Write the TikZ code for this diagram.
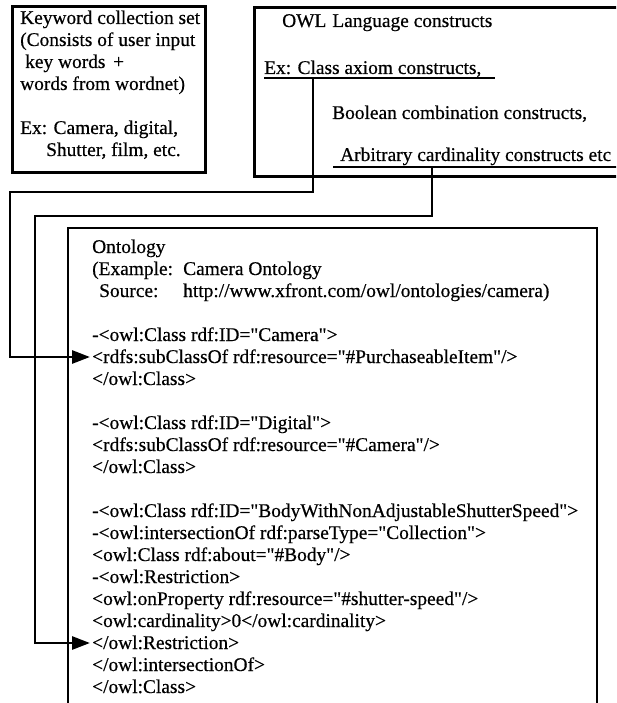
\documentclass[tikz,border=0pt]{standalone}
\usepackage{fontspec}
\setmainfont{Liberation Serif}[Ligatures=TeXOff,FakeBold=0.5]
\usetikzlibrary{arrows.meta}
\begin{document}
\begin{tikzpicture}[x=1pt,y=-1pt,
  txt/.style={anchor=base west,inner sep=0pt,font=\fontsize{19.4}{22}\selectfont},
  boxline/.style={line width=3pt},
  ontline/.style={line width=2.5pt},
  conn/.style={line width=2.8pt,-{Triangle[length=18pt,width=13pt]}},
  uline/.style={line width=2.3pt}]
\useasboundingbox (0,0) rectangle (616,703);
\clip (0,0) rectangle (616,703);

% Keyword box
\draw[boxline] (12,7) rectangle (205,173);
\node[txt] (k1) at (20,24) {Keyword collection set};
\node[txt] (k2) at (20,46) {(Consists of user input};
\node[txt] (k3) at (25,68) {key words};
\node[txt] (k3p) at (113,68) {+};
\node[txt] (k4) at (20,90) {words from wordnet)};
\node[txt] (k5) at (20,134) {Ex: Camera, digital,};
\node[txt] (k6) at (46,156) {Shutter, film, etc.};

% OWL box
\draw[boxline] (625,8) -- (254,8) -- (254,177) -- (625,177);
\node[txt] (w1) at (282,27) {OWL\hspace{6pt}Language constructs};
\node[txt] (w2) at (264,74) {Ex: Class axiom constructs,};
\node[txt] (w3) at (332,119) {Boolean combination constructs,};
\node[txt] (w4) at (340,161) {Arbitrary cardinality constructs etc};
\coordinate (u1a) at (264,78);
\coordinate (u1b) at (495,78);
\coordinate (u2a) at (333,167);
\coordinate (u2b) at (625,167);
\draw[uline] (u1a) -- (u1b);
\draw[uline] (u2a) -- (u2b);

% Ontology box
\draw[ontline] (68,715) -- (68,228) -- (597,228) -- (597,715);
\node[txt] (o1) at (92,253) {Ontology};
\node[txt] (o2) at (92,275) {(Example:};
\node[txt] (o2b) at (183,275) {Camera Ontology};
\node[txt] (o3) at (99,297) {Source:};
\node[txt] (o3b) at (183,297) {http://www.xfront.com/owl/ontologies/camera)};
\node[txt] (o4) at (92,341) {-<owl:Class rdf:ID="Camera">};
\node[txt] (o5) at (92,363) {<rdfs:subClassOf rdf:resource="\#PurchaseableItem"/>};
\node[txt] (o6) at (92,385) {</owl:Class>};
\node[txt] (o7) at (92,429) {-<owl:Class rdf:ID="Digital">};
\node[txt] (o8) at (92,451) {<rdfs:subClassOf rdf:resource="\#Camera"/>};
\node[txt] (o9) at (92,473) {</owl:Class>};
\node[txt] (o10) at (92,517) {-<owl:Class rdf:ID="BodyWithNonAdjustableShutterSpeed">};
\node[txt] (o11) at (92,539) {-<owl:intersectionOf rdf:parseType="Collection">};
\node[txt] (o12) at (92,561) {<owl:Class rdf:about="\#Body"/>};
\node[txt] (o13) at (92,583) {-<owl:Restriction>};
\node[txt] (o14) at (92,605) {<owl:onProperty rdf:resource="\#shutter-speed"/>};
\node[txt] (o15) at (92,627) {<owl:cardinality>0</owl:cardinality>};
\node[txt] (o16) at (92,649) {</owl:Restriction>};
\node[txt] (o17) at (92,671) {</owl:intersectionOf>};
\node[txt] (o18) at (92,693) {</owl:Class>};

% Connectors
\coordinate (c1) at (313,78);
\coordinate (t1) at (90,357);
\coordinate (c2) at (432,167);
\coordinate (t2) at (90,643);
\draw[conn] (c1) -- (313,192) -- (10,192) -- (10,357) -- (t1);
\draw[conn] (c2) -- (432,216) -- (35,216) -- (35,643) -- (t2);
\end{tikzpicture}
\end{document}
